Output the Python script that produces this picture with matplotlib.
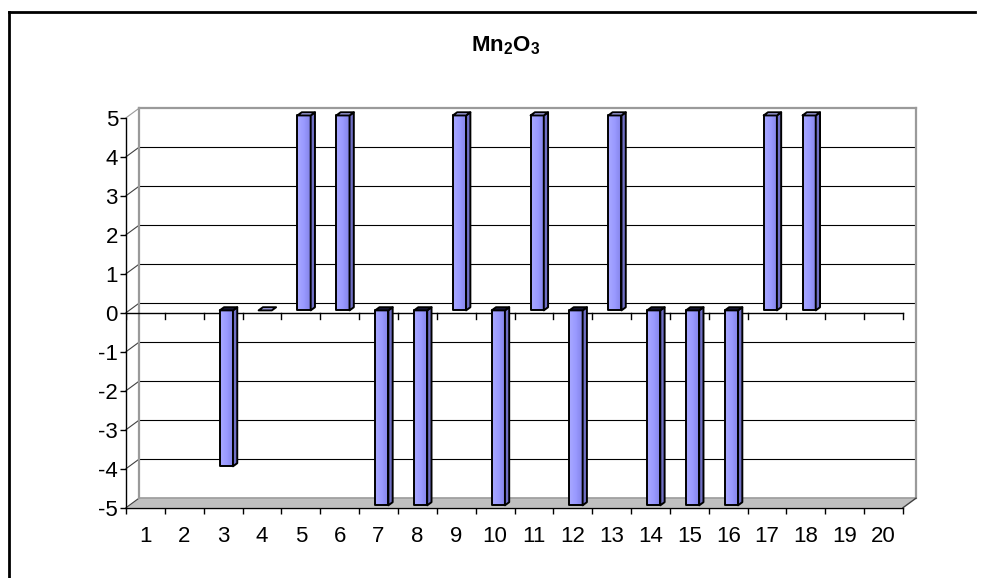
import matplotlib
matplotlib.use("Agg")
import matplotlib.pyplot as plt
import numpy as np
from matplotlib.patches import Polygon
from matplotlib.lines import Line2D
from matplotlib.colors import LinearSegmentedColormap

plt.rcParams["font.family"] = ["Liberation Sans", "DejaVu Sans"]
plt.rcParams["mathtext.fontset"] = "custom"
plt.rcParams["mathtext.rm"] = "Liberation Sans"
plt.rcParams["mathtext.bf"] = "Liberation Sans:bold"

# ---- data ----
categories = list(range(1, 21))
values = [None, None, -4, 0, 5, 5, -5, -5, 5, -5, 5, -5, 5, -5, -5, -5, 5, 5, None, None]
y_ticks = [-5, -4, -3, -2, -1, 0, 1, 2, 3, 4, 5]
y_labels = [str(v) for v in y_ticks]
x_labels = [str(c) for c in categories]
title = r"$\mathbf{Mn_2O_3}$"

# ---- pseudo-3D geometry (depth offset of the back wall, in data units) ----
DX = 0.334
DY = 0.244
BW = 0.34          # bar front-face width
Z0, Z1 = 0.25, 0.58  # bar depth range (0 = front, 1 = back)
TK = 0.154         # tick length on the zero axis

W, H = 984, 578
fig = plt.figure(figsize=(W / 100, H / 100), dpi=100)
fig.patch.set_facecolor("white")
ax = fig.add_axes([126 / W, (H - 507.7) / H, (916 - 126) / W, (507.7 - 108.3) / H])
ax.set_facecolor("none")
ymin, ymax = min(y_ticks), max(y_ticks)
x0, x1 = 0.5, len(categories) + 0.5
ax.set_xlim(x0, x1 + DX)
ax.set_ylim(ymin, ymax + DY)

grey = "#9a9a9a"
dark = "#404040"

# floor
ax.add_patch(Polygon([(x0, ymin), (x1, ymin), (x1 + DX, ymin + DY), (x0 + DX, ymin + DY)],
                     closed=True, fc="#c0c0c0", ec="none", zorder=1))
ax.plot([x1, x1 + DX], [ymin, ymin + DY], color=dark, lw=1.0, zorder=2, clip_on=False)

# back-wall gridlines and left-wall diagonals
for k in y_ticks:
    if ymin < k < ymax:
        ax.plot([x0 + DX, x1 + DX], [k + DY, k + DY], color="black", lw=0.8, zorder=1)
    ax.plot([x0, x0 + DX], [k, k + DY], color=dark if k != ymax else grey,
            lw=0.8, zorder=1, clip_on=False)

# wall edges
ax.plot([x0 + DX, x0 + DX], [ymin + DY, ymax + DY], color=grey, lw=1.6, zorder=1, clip_on=False)
ax.plot([x1 + DX, x1 + DX], [ymin + DY, ymax + DY], color=grey, lw=1.6, zorder=1, clip_on=False)
ax.plot([x0 + DX, x1 + DX], [ymax + DY, ymax + DY], color=grey, lw=1.6, zorder=1, clip_on=False)
ax.plot([x0 + DX, x1 + DX], [ymin + DY, ymin + DY], color=grey, lw=1.2, zorder=1, clip_on=False)

# front category axis at zero, with its tick marks
ax.plot([x0, x1], [0, 0], color="black", lw=1.0, zorder=2)
for b in np.arange(x0, x1 + 0.01, 1.0):
    ax.plot([b, b], [0, -TK], color="black", lw=1.0, zorder=2)

# bars
face_cmap = LinearSegmentedColormap.from_list("face", ["#a9a9ff", "#9999ff", "#8282e6"])
side_col = "#6f6fc4"
top_pos = "#b4b4ff"
top_neg = "#1a1a3a"
dz = Z1 - Z0
for c, v in zip(categories, values):
    if v is None:
        continue
    xl = c - BW / 2 + Z0 * DX
    xr = xl + BW
    yt = max(v, 0) + Z0 * DY
    yb = min(v, 0) + Z0 * DY
    ox, oy = dz * DX, dz * DY
    if v != 0:
        grad = np.linspace(0, 1, 64).reshape(1, -1)
        ax.imshow(grad, cmap=face_cmap, extent=(xl, xr, yb, yt), aspect="auto",
                  interpolation="bilinear", zorder=3)
        ax.add_patch(Polygon([(xl, yb), (xr, yb), (xr, yt), (xl, yt)], closed=True,
                             fc="none", ec="black", lw=1.4, zorder=4, joinstyle="round"))
        ax.add_patch(Polygon([(xr, yb), (xr + ox, yb + oy), (xr + ox, yt + oy), (xr, yt)],
                             closed=True, fc=side_col, ec="black", lw=1.4, zorder=4,
                             joinstyle="round"))
    ax.add_patch(Polygon([(xl, yt), (xr, yt), (xr + ox, yt + oy), (xl + ox, yt + oy)],
                         closed=True, fc=top_neg if v < 0 else top_pos, ec="black",
                         lw=1.4, zorder=5, joinstyle="round"))

ax.set_xlim(x0, x1 + DX)
ax.set_ylim(ymin, ymax + DY)

# axes, ticks and labels
for s in ("top", "right"):
    ax.spines[s].set_visible(False)
ax.spines["left"].set_bounds(ymin, ymax)
ax.spines["bottom"].set_bounds(x0, x1)
for s in ("left", "bottom"):
    ax.spines[s].set_linewidth(1.0)
    ax.spines[s].set_zorder(6)

ax.set_yticks(y_ticks)
ax.set_yticklabels(y_labels)
ax.set_xticks(categories)
ax.set_xticklabels(x_labels)
ax.set_xticks(np.arange(x0, x1 + 0.01, 1.0), minor=True)
ax.tick_params(axis="y", which="major", direction="out", length=4.3, width=1.0,
               pad=1.5, labelsize=16)
ax.tick_params(axis="x", which="major", length=0, pad=13, labelsize=16)
ax.tick_params(axis="x", which="minor", direction="out", length=4.3, width=1.0)

fig.text(506 / W, 1 - 46 / H, title, ha="center", va="center", fontsize=16)

# chart border
fig.add_artist(Line2D([9 / W, 9 / W], [0, 1 - 12 / H], transform=fig.transFigure,
                      color="black", lw=2))
fig.add_artist(Line2D([9 / W, 975 / W], [1 - 12 / H, 1 - 12 / H], transform=fig.transFigure,
                      color="black", lw=2))

fig.savefig("out.png", dpi=100)
